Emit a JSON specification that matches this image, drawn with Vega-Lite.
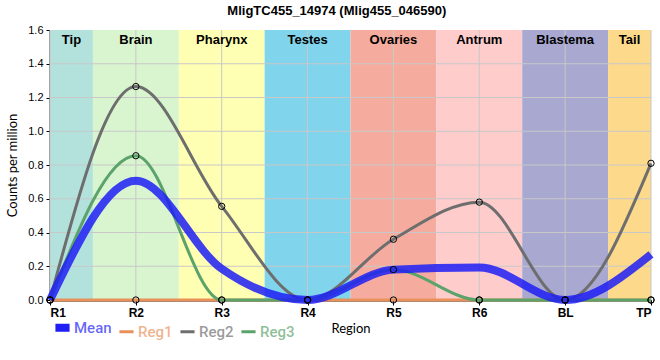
{
  "$schema": "https://vega.github.io/schema/vega-lite/v6.json",
  "width": 601,
  "height": 270,
  "autosize": {"type": "none"},
  "padding": {"left": 50, "top": 30, "right": 9, "bottom": 60},
  "title": {"text": "MligTC455_14974 (Mlig455_046590)", "fontSize": 13, "font": "Liberation Sans", "fontWeight": "bold", "anchor": "middle", "frame": "bounds", "offset": 6, "color": "black"},
  "config": {
    "view": {"stroke": null},
    "font": "Liberation Sans",
    "axisX": {"grid": false, "domainColor": "black", "domainWidth": 2, "tickColor": "black", "tickSize": 5, "labelPadding": 2,
      "labelFontSize": 12, "labelFontWeight": "bold", "labelColor": "black", "labelFont": "Liberation Sans", "labelOverlap": false,
      "titleFontSize": 13, "titleFontWeight": "normal", "titleFont": "Lato", "titleColor": "black", "titlePadding": 4, "zindex": 1},
    "axisY": {"grid": false, "domainColor": "black", "domainWidth": 2, "tickColor": "black", "tickSize": 4, "labelPadding": 3,
      "labelFontSize": 11, "labelColor": "black", "labelFont": "Liberation Sans", "labelOverlap": false,
      "titleFontSize": 13, "titleFontWeight": "normal", "titleFont": "Lato", "titleColor": "black", "titlePadding": 8, "zindex": 1}
  },
  "datasets": {
    "bands": [
      {"region": "Tip", "start": 0, "end": 0.5},
      {"region": "Brain", "start": 0.5, "end": 1.5},
      {"region": "Pharynx", "start": 1.5, "end": 2.5},
      {"region": "Testes", "start": 2.5, "end": 3.5},
      {"region": "Ovaries", "start": 3.5, "end": 4.5},
      {"region": "Antrum", "start": 4.5, "end": 5.5},
      {"region": "Blastema", "start": 5.5, "end": 6.5},
      {"region": "Tail", "start": 6.5, "end": 7}
    ],
    "gridx": [{"v": 0}, {"v": 1}, {"v": 2}, {"v": 3}, {"v": 4}, {"v": 5}, {"v": 6}, {"v": 7}],
    "gridy": [{"v": 0.2}, {"v": 0.4}, {"v": 0.6}, {"v": 0.8}, {"v": 1.0}, {"v": 1.2}, {"v": 1.4}],
    "reps": [
      {"series": "Reg1", "idx": 0, "value": 0},
      {"series": "Reg1", "idx": 1, "value": 0},
      {"series": "Reg1", "idx": 2, "value": 0},
      {"series": "Reg1", "idx": 3, "value": 0},
      {"series": "Reg1", "idx": 4, "value": 0},
      {"series": "Reg1", "idx": 5, "value": 0},
      {"series": "Reg1", "idx": 6, "value": 0},
      {"series": "Reg1", "idx": 7, "value": 0},
      {"series": "Reg2", "idx": 0, "value": 0},
      {"series": "Reg2", "idx": 1, "value": 1.265},
      {"series": "Reg2", "idx": 2, "value": 0.555},
      {"series": "Reg2", "idx": 3, "value": 0},
      {"series": "Reg2", "idx": 4, "value": 0.36},
      {"series": "Reg2", "idx": 5, "value": 0.58},
      {"series": "Reg2", "idx": 6, "value": 0},
      {"series": "Reg2", "idx": 7, "value": 0.81},
      {"series": "Reg3", "idx": 0, "value": 0},
      {"series": "Reg3", "idx": 1, "value": 0.855},
      {"series": "Reg3", "idx": 2, "value": 0},
      {"series": "Reg3", "idx": 3, "value": 0},
      {"series": "Reg3", "idx": 4, "value": 0.18},
      {"series": "Reg3", "idx": 5, "value": 0},
      {"series": "Reg3", "idx": 6, "value": 0},
      {"series": "Reg3", "idx": 7, "value": 0}
    ],
    "mean": [
      {"series": "Mean", "idx": 0, "value": 0},
      {"series": "Mean", "idx": 1, "value": 0.707},
      {"series": "Mean", "idx": 2, "value": 0.185},
      {"series": "Mean", "idx": 3, "value": 0},
      {"series": "Mean", "idx": 4, "value": 0.18},
      {"series": "Mean", "idx": 5, "value": 0.193},
      {"series": "Mean", "idx": 6, "value": 0},
      {"series": "Mean", "idx": 7, "value": 0.27}
    ]
  },
  "layer": [
    {
      "data": {"name": "bands"},
      "mark": {"type": "rect"},
      "encoding": {
        "x": {"field": "start", "type": "quantitative", "title": "Region", "scale": {"domain": [0, 7], "nice": false, "zero": false},
          "axis": {"values": [0, 1, 2, 3, 4, 5, 6, 7], "labelExpr": "['R1','R2','R3','R4','R5','R6','BL','TP'][datum.value]", "labelOverlap": false}},
        "x2": {"field": "end"},
        "y": {"datum": 0, "type": "quantitative", "title": "Counts per million", "scale": {"domain": [0, 1.6], "nice": false},
          "axis": {"values": [0, 0.2, 0.4, 0.6, 0.8, 1.0, 1.2, 1.4, 1.6], "format": ".1f", "labelOverlap": false, "labelSeparation": 0}},
        "y2": {"datum": 1.6},
        "fill": {"field": "region", "type": "nominal", "legend": null,
          "scale": {"domain": ["Tip", "Brain", "Pharynx", "Testes", "Ovaries", "Antrum", "Blastema", "Tail"],
                    "range": ["#b3e2dd", "#d8f5cf", "#ffffb3", "#80d4ec", "#f5ac9f", "#ffcccc", "#a8a8d0", "#fdd98c"]}}
      }
    },
    {
      "data": {"name": "gridx"},
      "mark": {"type": "rule", "color": "#c8c8c8", "strokeWidth": 1},
      "encoding": {"x": {"field": "v", "type": "quantitative", "title": "Region",
        "axis": {"values": [0, 1, 2, 3, 4, 5, 6, 7], "labelExpr": "['R1','R2','R3','R4','R5','R6','BL','TP'][datum.value]", "labelOverlap": false}}}
    },
    {
      "data": {"name": "gridy"},
      "mark": {"type": "rule", "color": "#c8c8c8", "strokeWidth": 1},
      "encoding": {"y": {"field": "v", "type": "quantitative", "title": "Counts per million",
        "axis": {"values": [0, 0.2, 0.4, 0.6, 0.8, 1.0, 1.2, 1.4, 1.6], "format": ".1f", "labelOverlap": false, "labelSeparation": 0}}}
    },
    {
      "data": {"name": "bands"},
      "transform": [{"calculate": "(datum.start + datum.end) / 2", "as": "mid"}],
      "mark": {"type": "text", "baseline": "top", "dy": 4, "fontSize": 13, "fontWeight": "bold", "font": "Liberation Sans", "color": "black"},
      "encoding": {
        "x": {"field": "mid", "type": "quantitative", "title": "Region",
          "axis": {"values": [0, 1, 2, 3, 4, 5, 6, 7], "labelExpr": "['R1','R2','R3','R4','R5','R6','BL','TP'][datum.value]", "labelOverlap": false}},
        "y": {"datum": 1.6, "type": "quantitative", "title": "Counts per million",
          "axis": {"values": [0, 0.2, 0.4, 0.6, 0.8, 1.0, 1.2, 1.4, 1.6], "format": ".1f", "labelOverlap": false, "labelSeparation": 0}},
        "text": {"field": "region"}
      }
    },
    {
      "mark": {"type": "rule", "color": "black", "strokeWidth": 2.5, "strokeDash": [5, 4]},
      "encoding": {"x": {"datum": 6.5, "type": "quantitative", "title": "Region",
        "axis": {"values": [0, 1, 2, 3, 4, 5, 6, 7], "labelExpr": "['R1','R2','R3','R4','R5','R6','BL','TP'][datum.value]", "labelOverlap": false}}}
    },
    {
      "mark": {"type": "rule", "color": "black", "strokeWidth": 1.5},
      "encoding": {"x": {"datum": 7, "type": "quantitative", "title": "Region",
        "axis": {"values": [0, 1, 2, 3, 4, 5, 6, 7], "labelExpr": "['R1','R2','R3','R4','R5','R6','BL','TP'][datum.value]", "labelOverlap": false}}}
    },
    {
      "mark": {"type": "rule", "color": "black", "strokeWidth": 1.5},
      "encoding": {"y": {"datum": 1.6, "type": "quantitative", "title": "Counts per million",
        "axis": {"values": [0, 0.2, 0.4, 0.6, 0.8, 1.0, 1.2, 1.4, 1.6], "format": ".1f", "labelOverlap": false, "labelSeparation": 0}}}
    },
    {
      "data": {"name": "reps"},
      "mark": {"type": "line", "interpolate": "monotone", "strokeWidth": 3},
      "encoding": {
        "x": {"field": "idx", "type": "quantitative", "title": "Region",
          "axis": {"values": [0, 1, 2, 3, 4, 5, 6, 7], "labelExpr": "['R1','R2','R3','R4','R5','R6','BL','TP'][datum.value]", "labelOverlap": false}},
        "y": {"field": "value", "type": "quantitative", "title": "Counts per million",
          "axis": {"values": [0, 0.2, 0.4, 0.6, 0.8, 1.0, 1.2, 1.4, 1.6], "format": ".1f", "labelOverlap": false, "labelSeparation": 0}},
        "stroke": {"field": "series", "type": "nominal",
          "scale": {"domain": ["Mean", "Reg1", "Reg2", "Reg3"], "range": ["#1f1ff5", "#e8915b", "#6e6e6e", "#5ba36b"]},
          "legend": {"orient": "none", "legendX": 5, "legendY": 290, "direction": "horizontal", "title": null,
            "symbolType": "stroke", "symbolSize": 200, "labelFontSize": 15, "labelFont": "Roboto", "labelFontWeight": 500,
            "columnPadding": 1, "labelOffset": 4,
            "encode": {
              "symbols": {"update": {"strokeWidth": {"signal": "datum.value === 'Mean' ? 8 : 3"}}},
              "labels": {"update": {"fill": {"scale": "stroke", "field": "value"}, "fillOpacity": {"value": 0.7}}}}}}
      }
    },
    {
      "data": {"name": "mean"},
      "mark": {"type": "line", "interpolate": "monotone", "opacity": 0.85, "strokeWidth": 8},
      "encoding": {
        "x": {"field": "idx", "type": "quantitative", "title": "Region",
          "axis": {"values": [0, 1, 2, 3, 4, 5, 6, 7], "labelExpr": "['R1','R2','R3','R4','R5','R6','BL','TP'][datum.value]", "labelOverlap": false}},
        "y": {"field": "value", "type": "quantitative", "title": "Counts per million",
          "axis": {"values": [0, 0.2, 0.4, 0.6, 0.8, 1.0, 1.2, 1.4, 1.6], "format": ".1f", "labelOverlap": false, "labelSeparation": 0}},
        "stroke": {"field": "series", "type": "nominal"}
      }
    },
    {
      "data": {"name": "reps"},
      "mark": {"type": "point", "filled": false, "stroke": "black", "strokeWidth": 1, "size": 40, "opacity": 1},
      "encoding": {
        "x": {"field": "idx", "type": "quantitative", "title": "Region",
          "axis": {"values": [0, 1, 2, 3, 4, 5, 6, 7], "labelExpr": "['R1','R2','R3','R4','R5','R6','BL','TP'][datum.value]", "labelOverlap": false}},
        "y": {"field": "value", "type": "quantitative", "title": "Counts per million",
          "axis": {"values": [0, 0.2, 0.4, 0.6, 0.8, 1.0, 1.2, 1.4, 1.6], "format": ".1f", "labelOverlap": false, "labelSeparation": 0}}
      }
    }
  ]
}
